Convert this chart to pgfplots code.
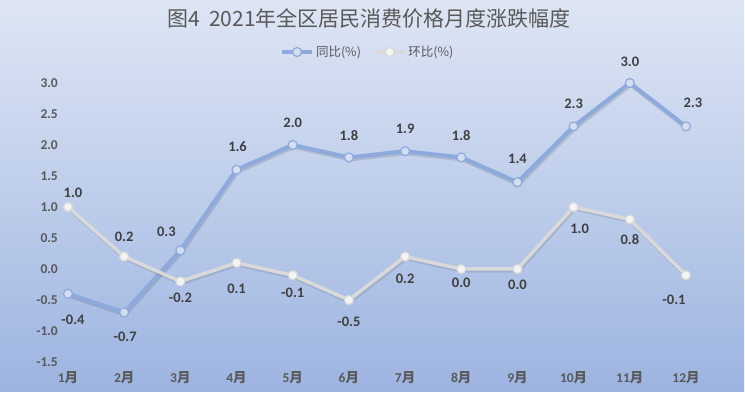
\documentclass[border=0pt]{standalone}
\usepackage{fontspec}
\setmainfont{Carlito}
\newfontfamily\cjk{Noto Sans CJK SC}
\usepackage{pgfplots}
\pgfplotsset{compat=1.18}
\usepackage{pgfplotstable}
\definecolor{txt}{HTML}{595959}
\definecolor{lbl}{HTML}{404040}
\definecolor{bgtop}{HTML}{DEE6F4}
\definecolor{bgbot}{HTML}{9DB4E1}
\definecolor{yoy}{HTML}{8EA9DB}
\definecolor{yoyfill}{HTML}{D3DEF0}
\definecolor{mom}{HTML}{D9D9D9}
\definecolor{momfill}{HTML}{F4F4F4}

\pgfplotstableread{
x y ldx ldy
0 -0.4 5 -26
1 -0.7 1 -24
2 0.3 -14 19
3 1.6 1 23
4 2.0 0 22
5 1.8 0 22
6 1.9 0 22
7 1.8 0 22
8 1.4 0 23
9 2.3 0 23
10 3.0 0 21
11 2.3 7 24
}\yoytab

\pgfplotstableread{
x y ldx ldy
0 1.0 5 14
1 0.2 0 20
2 -0.2 0 -16
3 0.1 0 -26
4 -0.1 0 -18
5 -0.5 0 -22
6 0.2 0 -22
7 0.0 0 -14
8 0.0 0 -16
9 1.0 6 -22
10 0.8 0 -20
11 -0.1 -12 -25
}\momtab

\begin{document}
\begin{tikzpicture}[x=1pt,y=1pt]
\fill[white] (0,0) rectangle (745,394);
\shade[top color=bgtop, bottom color=bgbot] (0,3) rectangle (744,394);
\useasboundingbox (0,0) rectangle (745,394);
\node[font=\cjk\fontsize{21}{21}\selectfont, text=txt] at (369,376) {图4\hspace{0.45em}2021年全区居民消费价格月度涨跌幅度};
\begin{axis}[
  at={(68pt,32pt)}, anchor=south west,
  width=618pt, height=279pt, scale only axis,
  xmin=0, xmax=11, ymin=-1.5, ymax=3,
  clip=false,
  axis line style={draw=none},
  major tick length=0pt,
  xtick={0,...,11},
  xticklabels={{1{\cjk 月}},{2{\cjk 月}},{3{\cjk 月}},{4{\cjk 月}},{5{\cjk 月}},{6{\cjk 月}},{7{\cjk 月}},{8{\cjk 月}},{9{\cjk 月}},{10{\cjk 月}},{11{\cjk 月}},{12{\cjk 月}}},
  ytick={-1.5,-1,-0.5,0,0.5,1,1.5,2,2.5,3},
  ticklabel style={font=\bfseries\fontsize{13.5}{14}\selectfont, text=txt},
  yticklabel style={anchor=east, inner sep=0pt, xshift=-10pt,
    /pgf/number format/.cd, fixed, fixed zerofill, precision=1, assume math mode=true},
  xticklabel style={anchor=center, inner sep=0pt, yshift=-16pt},
  legend style={at={(0.485,1.111)}, anchor=center, draw=none, fill=none,
    legend columns=2, font=\cjk\fontsize{12.5}{13}\selectfont, text=txt,
    /tikz/every even column/.style={column sep=10pt}},
  legend image code/.code={\draw[mark repeat=2,mark phase=2,#1] plot coordinates {(0pt,0pt) (15pt,0pt) (30pt,0pt)};},
  nodes near coords={\pgfmathprintnumber[fixed,fixed zerofill,precision=1,assume math mode=true]{\pgfplotspointmeta}},
  visualization depends on={\thisrow{ldx}\as\ldx},
  visualization depends on={\thisrow{ldy}\as\ldy},
  every node near coord/.append style={anchor=center, xshift=\ldx pt, yshift=\ldy pt,
    font=\bfseries\fontsize{14.5}{15}\selectfont, text=lbl},
]
\addplot[forget plot, black, opacity=0.12, line width=4pt, xshift=1pt, yshift=-2pt, nodes near coords=] table[x=x,y=y] {\yoytab};
\addplot[yoy, line width=4pt, mark=*, mark size=4.5pt,
  mark options={fill=yoyfill, draw=yoy, line width=1.2pt}] table[x=x,y=y] {\yoytab};
\addlegendentry{同比(\%)}
\addplot[forget plot, black, opacity=0.10, line width=3.5pt, xshift=1pt, yshift=-2pt, nodes near coords=] table[x=x,y=y] {\momtab};
\addplot[mom, line width=3.5pt, mark=*, mark size=4.5pt,
  mark options={fill=momfill, draw=mom, line width=1.2pt}] table[x=x,y=y] {\momtab};
\addlegendentry{环比(\%)}
\end{axis}
\end{tikzpicture}
\end{document}
